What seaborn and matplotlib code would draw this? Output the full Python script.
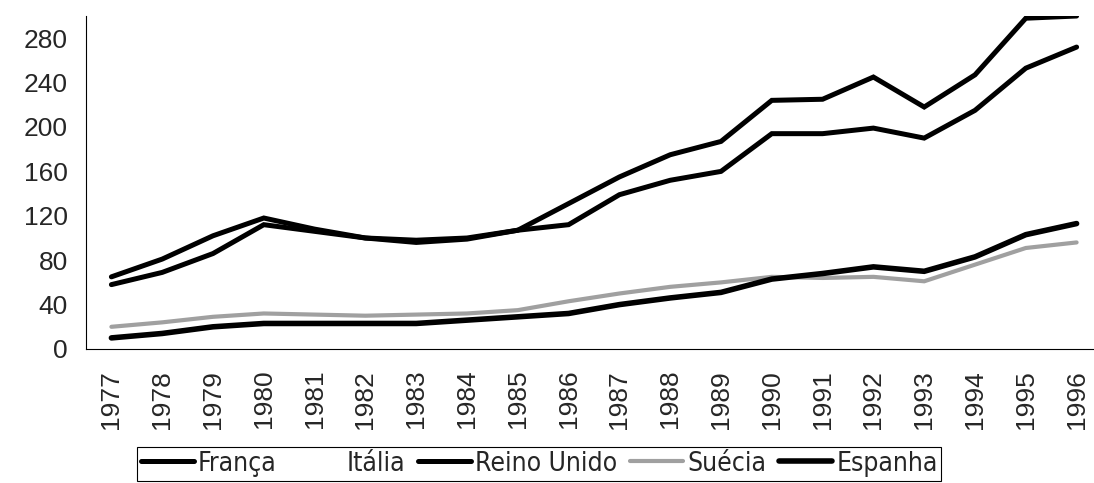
import numpy as np
import pandas as pd
import matplotlib
matplotlib.use('Agg')
import matplotlib.pyplot as plt
from matplotlib import font_manager
from matplotlib.lines import Line2D
import seaborn as sns

# dados
anos = list(range(1977, 1997))
franca = [65, 81, 102, 118, 108, 100, 98, 100, 107, 131, 155, 175, 187, 224, 225, 245, 218, 247, 298, 300]
italia = [np.nan] * 20  # linha branca, não visível no original
reino_unido = [58, 69, 86, 112, 106, 100, 96, 99, 107, 112, 139, 152, 160, 194, 194, 199, 190, 215, 253, 272]
suecia = [20, 24, 29, 32, 31, 30, 31, 32, 35, 43, 50, 56, 60, 65, 64, 65, 61, 76, 91, 96]
espanha = [10, 14, 20, 23, 23, 23, 23, 26, 29, 32, 40, 46, 51, 63, 68, 74, 70, 83, 103, 113]

paises = ['França', 'Itália', 'Reino Unido', 'Suécia', 'Espanha']
cores = {'França': 'black', 'Itália': 'white', 'Reino Unido': 'black',
         'Suécia': '#a0a0a0', 'Espanha': 'black'}
larguras = {'França': 3.6, 'Itália': 3.6, 'Reino Unido': 3.6, 'Suécia': 3.0, 'Espanha': 4.0}

df = pd.DataFrame({'ano': anos, 'França': franca, 'Itália': italia,
                   'Reino Unido': reino_unido, 'Suécia': suecia, 'Espanha': espanha})
df_long = df.melt(id_vars='ano', var_name='pais', value_name='valor').dropna()

sns.set_style('white')
plt.rcParams['font.family'] = ['Liberation Sans', 'DejaVu Sans']

# fonte estreita para a legenda, se houver
arq_leg = None
for f in font_manager.fontManager.ttflist:
    if f.name == 'Liberation Sans Narrow' and f.weight in (400, 'normal') and f.style == 'normal':
        arq_leg = f.fname
        break
if arq_leg is None:
    for f in font_manager.fontManager.ttflist:
        if f.name == 'DejaVu Sans' and 'condensed' in str(f.stretch) and f.style == 'normal' \
                and f.weight in (400, 'normal'):
            arq_leg = f.fname
            break
if arq_leg is not None:
    prop_leg = font_manager.FontProperties(fname=arq_leg, size=19)
else:
    prop_leg = font_manager.FontProperties(family='Liberation Sans', size=17)

fig = plt.figure(figsize=(10.94, 4.83), dpi=100)
ax = fig.add_axes([86 / 1094, 134 / 483, 1016 / 1094, 333 / 483])

for p in paises:
    sub = df_long[df_long['pais'] == p]
    if len(sub) == 0:
        continue
    sns.lineplot(data=sub, x='ano', y='valor', color=cores[p], lw=larguras[p],
                 ax=ax, legend=False, solid_joinstyle='miter')

ax.set_xlim(1976.5, 1996.5)
ax.set_ylim(0, 300)
ax.set_yticks(range(0, 281, 40))
ax.set_xticks(anos)
ax.set_xticklabels([str(a) for a in anos], rotation=90, fontsize=19)
ax.set_xticks([a + 0.5 for a in anos[:-1]], minor=True)
ax.tick_params(axis='x', which='major', length=0, pad=15)
ax.tick_params(axis='x', which='minor', length=6, width=0.8, direction='out', color='black')
ax.tick_params(axis='y', labelsize=19, length=5, width=0.8, direction='out', color='black', pad=8)
ax.set_xlabel('')
ax.set_ylabel('')
for s in ['top', 'right']:
    ax.spines[s].set_visible(False)
for s in ['left', 'bottom']:
    ax.spines[s].set_color('black')
    ax.spines[s].set_linewidth(0.8)

handles = [Line2D([0], [0], color=cores[p], lw=larguras[p]) for p in paises]
leg = fig.legend(handles, paises, loc='center', bbox_to_anchor=(0.493, 0.040), ncol=5,
                 frameon=True, fancybox=False, edgecolor='black', framealpha=1,
                 handlelength=2.0, handletextpad=0.15, columnspacing=0.5, borderpad=0.15,
                 borderaxespad=0, prop=prop_leg)
leg.get_frame().set_linewidth(0.8)

fig.savefig('out.png', dpi=100)
